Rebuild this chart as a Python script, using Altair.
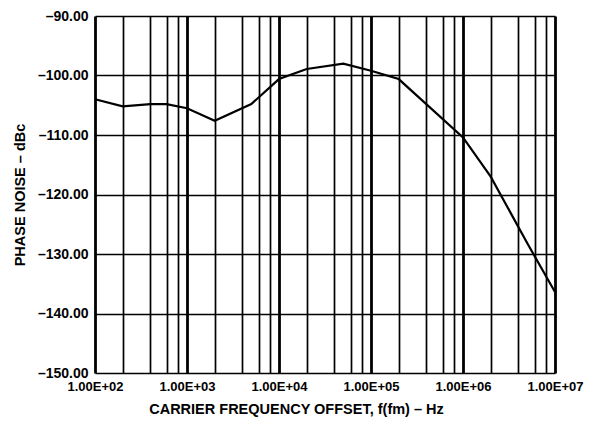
import altair as alt
import pandas as pd

freq = [100, 200, 400, 600, 1000, 2000, 5000, 10000, 20000, 50000, 100000,
        200000, 1000000, 2000000, 5000000, 10000000]
noise = [-104.0, -105.2, -104.8, -104.8, -105.5, -107.6, -104.8, -100.6, -98.9,
         -98.0, -99.2, -100.6, -110.4, -117.0, -128.2, -136.4]

grid_x = []
for d in [100, 1000, 10000, 100000, 1000000]:
    for m in [1, 2, 4, 6, 8]:
        grid_x.append(d * m)
grid_x.append(10000000)
y_ticks = [-150, -140, -130, -120, -110, -100, -90]

df = pd.DataFrame({"f": freq, "pn": noise})

FONT = "Liberation Sans"
is_decade = "abs(log(datum.value)/LN10 - round(log(datum.value)/LN10)) < 0.001"

chart = alt.Chart(df).mark_line(color="black", strokeWidth=2.2).encode(
    x=alt.X("f:Q",
            scale=alt.Scale(type="log", domain=[100, 10000000], nice=False),
            axis=alt.Axis(
                values=grid_x,
                title="CARRIER FREQUENCY OFFSET, f(fm) – Hz",
                titleFont=FONT, titleFontSize=14.5, titleFontWeight="bold",
                titleColor="black", titlePadding=9,
                titleX=201, titleAlign="center",
                labelFont=FONT, labelFontSize=13, labelFontWeight="bold",
                labelColor="black", labelPadding=7, labelOverlap=False,
                labelFlush=False,
                labelExpr=f"({is_decade}) ? '1.00E+0' + round(log(datum.value)/LN10) : ''",
                ticks=False, domain=False,
                grid=True, gridColor="black",
                gridWidth={"condition": {"test": is_decade, "value": 2.8}, "value": 1.7},
                gridOpacity=1,
            )),
    y=alt.Y("pn:Q",
            scale=alt.Scale(domain=[-150, -90], nice=False),
            axis=alt.Axis(
                values=y_ticks,
                title="PHASE NOISE – dBc",
                titleFont=FONT, titleFontSize=14.5, titleFontWeight="bold",
                titleColor="black", titlePadding=10,
                labelFont=FONT, labelFontSize=14, labelFontWeight="bold",
                labelColor="black", labelPadding=7,
                labelExpr="'–' + format(abs(datum.value), '.2f')",
                ticks=False, domain=False,
                grid=True, gridColor="black", gridWidth=1.7, gridOpacity=1,
            )),
).properties(
    width=460, height=357,
    autosize=alt.AutoSizeParams(type="none"),
    padding={"left": 87, "top": 8, "right": 29, "bottom": 46},
).configure_view(stroke="black", strokeWidth=3).configure(background="white")

chart.save("out.html", embed_options={"renderer": "svg", "actions": False})
